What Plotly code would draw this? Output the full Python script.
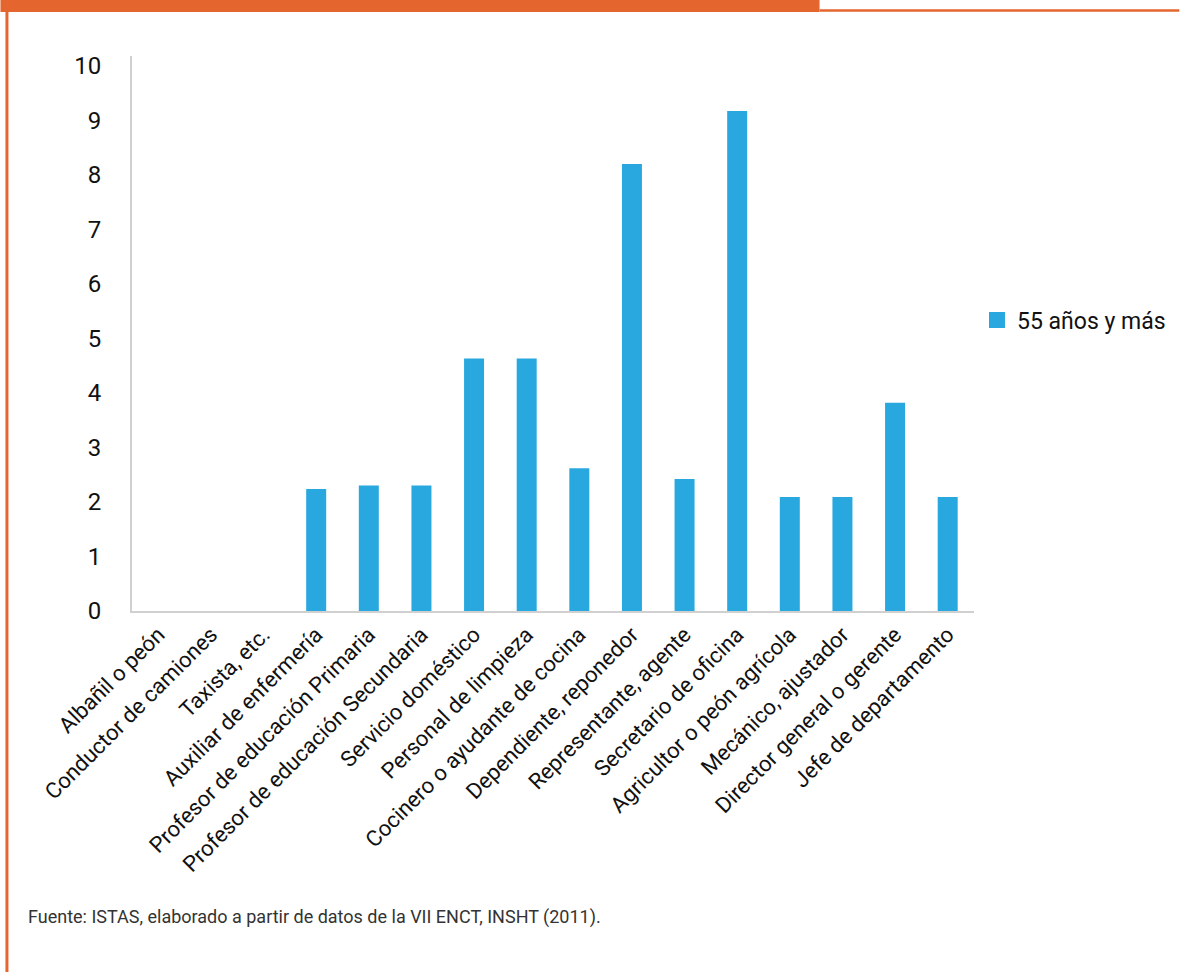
import plotly.graph_objects as go

categories = [
    "Albañil o peón", "Conductor de camiones", "Taxista, etc.", "Auxiliar de enfermería",
    "Profesor de educación Primaria", "Profesor de educación Secundaria", "Servicio doméstico",
    "Personal de limpieza", "Cocinero o ayudante de cocina", "Dependiente, reponedor",
    "Representante, agente", "Secretario de oficina", "Agricultor o peón agrícola",
    "Mecánico, ajustador", "Director general o gerente", "Jefe de departamento",
]
values_55 = [0, 0, 0, 2.24, 2.3, 2.3, 4.63, 4.63, 2.62, 8.2, 2.42, 9.17, 2.09, 2.09, 3.82, 2.09]
series_name = "55 años y más"
y_ticks = list(range(0, 11))
source_text = "Fuente: ISTAS, elaborado a partir de datos de la VII ENCT, INSHT (2011)."

W, H = 1183, 972
L, R, T, B = 132, 977, 56, 611
FONT = "Roboto, sans-serif"
ORANGE = "#E5652F"
BLUE = "#29A8E0"


def px_x(x):
    return (x - L) / (R - L)


def px_y(y):
    return (B - y) / (B - T)


fig = go.Figure()
fig.add_trace(go.Bar(
    x=categories, y=values_55, name=series_name,
    marker=dict(color=BLUE, line=dict(width=0)),
    showlegend=False,
))
# legend entry with a larger square swatch
fig.add_trace(go.Scatter(
    x=[None], y=[None], mode="markers", name=series_name,
    marker=dict(symbol="square", size=18, color=BLUE), showlegend=True,
))

fig.update_layout(
    width=W, height=H,
    margin=dict(l=L, r=W - R, t=T, b=H - B, pad=0),
    paper_bgcolor="white", plot_bgcolor="white",
    bargap=0.62,
    font=dict(family=FONT, color="#111111", size=20),
    xaxis=dict(
        showgrid=False, showline=True, linecolor="#d0d0d0", linewidth=2,
        tickangle=-45, ticks="", tickfont=dict(size=22, family=FONT),
        zeroline=False,
    ),
    yaxis=dict(
        range=[0, 10.18], tickvals=y_ticks, showgrid=False, showline=True,
        linecolor="#d0d0d0", linewidth=2, ticks="", zeroline=False,
        tickfont=dict(size=24, family=FONT), ticklabelstandoff=24,
    ),
    legend=dict(
        x=px_x(980), y=px_y(320), xanchor="left", yanchor="middle",
        font=dict(size=23, family=FONT), itemwidth=30,
    ),
    shapes=[
        dict(type="rect", xref="paper", yref="paper",
             x0=px_x(0), x1=px_x(822), y0=px_y(0), y1=px_y(12),
             fillcolor=ORANGE, line=dict(width=0), layer="above"),
        dict(type="line", xref="paper", yref="paper",
             x0=px_x(822), x1=px_x(W), y0=px_y(10.5), y1=px_y(10.5),
             line=dict(color=ORANGE, width=2.5)),
        dict(type="line", xref="paper", yref="paper",
             x0=px_x(6.5), x1=px_x(6.5), y0=px_y(0), y1=px_y(H),
             line=dict(color=ORANGE, width=3)),
    ],
    annotations=[
        dict(text=source_text, xref="paper", yref="paper",
             x=px_x(26), y=px_y(917), xanchor="left", yanchor="middle",
             showarrow=False, font=dict(size=18, family=FONT, color="#333333")),
    ],
)

fig.write_html("out.html")
